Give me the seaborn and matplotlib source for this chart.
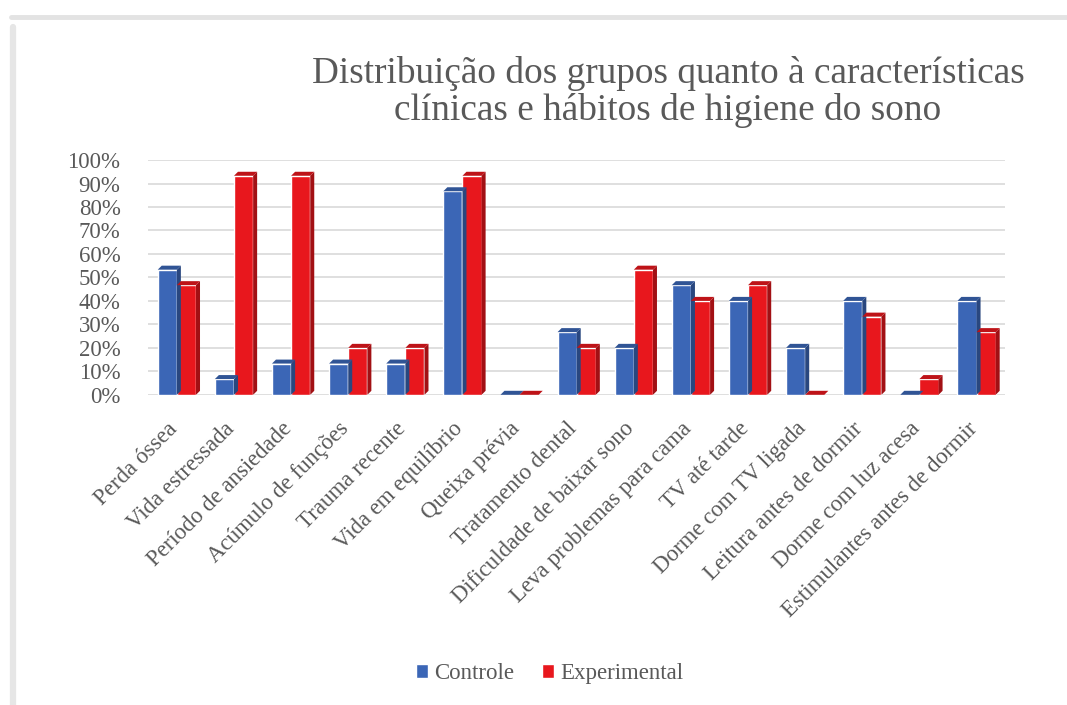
import matplotlib
matplotlib.use("Agg")
import matplotlib.pyplot as plt
from matplotlib.lines import Line2D
from matplotlib.patches import Patch, Polygon
from matplotlib.colors import to_rgb
from matplotlib.transforms import ScaledTranslation
import seaborn as sns
import pandas as pd

# Categories (x axis)
categorias = [
    "Perda óssea", "Vida estressada", "Período de ansiedade",
    "Acúmulo de funções", "Trauma recente", "Vida em equilíbrio",
    "Queixa prévia", "Tratamento dental", "Dificuldade de baixar sono",
    "Leva problemas para cama", "TV até tarde", "Dorme com TV ligada",
    "Leitura antes de dormir", "Dorme com luz acesa",
    "Estimulantes antes de dormir",
]

# Share of each group (fraction of 1)
controle = [0.533, 0.067, 0.133, 0.133, 0.133, 0.867, 0.0, 0.267, 0.20,
            0.467, 0.40, 0.20, 0.40, 0.0, 0.40]
experimental = [0.467, 0.933, 0.933, 0.20, 0.20, 0.933, 0.0, 0.20, 0.533,
                0.40, 0.467, 0.0, 0.333, 0.067, 0.267]

grupos = ["Controle", "Experimental"]
cores = {"Controle": "#3B66B6", "Experimental": "#E8171D"}

df = pd.DataFrame({
    "categoria": categorias * 2,
    "grupo": [grupos[0]] * len(categorias) + [grupos[1]] * len(categorias),
    "valor": controle + experimental,
})

sns.set_theme(style="white")
plt.rcParams["font.family"] = ["Liberation Serif", "DejaVu Serif"]

fig = plt.figure(figsize=(10.67, 7.05), dpi=100)
ax = fig.add_axes([0.139, 0.44, 0.803, 0.333])

sns.barplot(data=df, x="categoria", y="valor", hue="grupo", order=categorias,
            hue_order=grupos, palette=cores, width=0.67, ax=ax,
            saturation=1, legend=False, zorder=3)

ax.set_ylim(0, 1.0)
ax.set_xlim(-0.5, len(categorias) - 0.5)
ax.set_yticks([i / 10 for i in range(11)])
ax.set_yticklabels([f"{i * 10}%" for i in range(11)])
ax.yaxis.grid(True, color="#D9D9D9", linewidth=1.2, zorder=0)
ax.set_axisbelow(True)
for s in ax.spines.values():
    s.set_visible(False)
ax.set_xlabel("")
ax.set_ylabel("")
ax.tick_params(axis="y", length=0, pad=20, labelsize=16.5, labelcolor="#595959")
ax.tick_params(axis="x", length=0, pad=14, labelsize=16.5, labelcolor="#595959")
plt.setp(ax.get_xticklabels(), rotation=45, ha="right", rotation_mode="anchor")
# nudge the slanted category labels a little left and down
shift = ScaledTranslation(-0.10, -0.04, fig.dpi_scale_trans)
for lbl in ax.get_xticklabels():
    lbl.set_transform(lbl.get_transform() + shift)

fig.text(0.626, 0.869, "Distribuição dos grupos quanto à características\n"
         "clínicas e hábitos de higiene do sono",
         ha="center", va="center", fontsize=26.8, color="#595959",
         linespacing=1.08)

handles = [Patch(facecolor=cores[g], label=g) for g in grupos]
fig.legend(handles=handles, loc="center", bbox_to_anchor=(0.515, 0.045),
           ncol=2, frameon=False, fontsize=16.5, handlelength=0.55,
           handleheight=0.55, handletextpad=0.25, columnspacing=1.2,
           labelcolor="#595959")

# shaded side and top faces give the columns a little depth
fig.canvas.draw()
depth = 4.0
for p in list(ax.patches):
    (x0, y0), (x1, y1) = ax.transData.transform(
        [(p.get_x(), p.get_y()), (p.get_x() + p.get_width(),
                                  p.get_y() + p.get_height())])
    base = to_rgb(p.get_facecolor())
    side = tuple(c * 0.7 for c in base)
    top = tuple(c * 0.82 for c in base)
    fig.add_artist(Polygon([(x1, y0), (x1 + depth, y0 + depth),
                            (x1 + depth, y1 + depth), (x1, y1)],
                           closed=True, transform=None, facecolor=side,
                           edgecolor="none", zorder=4))
    fig.add_artist(Polygon([(x0, y1), (x0 + depth, y1 + depth),
                            (x1 + depth, y1 + depth), (x1, y1)],
                           closed=True, transform=None, facecolor=top,
                           edgecolor="none", zorder=4))

# outer frame
fig.add_artist(Line2D([0.01, 1.0], [0.976, 0.976], color="#E3E3E3",
                      linewidth=3.5, transform=fig.transFigure))
fig.add_artist(Line2D([0.012, 0.012], [0.0, 0.962], color="#E6E6E6",
                      linewidth=4.5, transform=fig.transFigure))

fig.savefig("out.png", dpi=100, facecolor="white")
